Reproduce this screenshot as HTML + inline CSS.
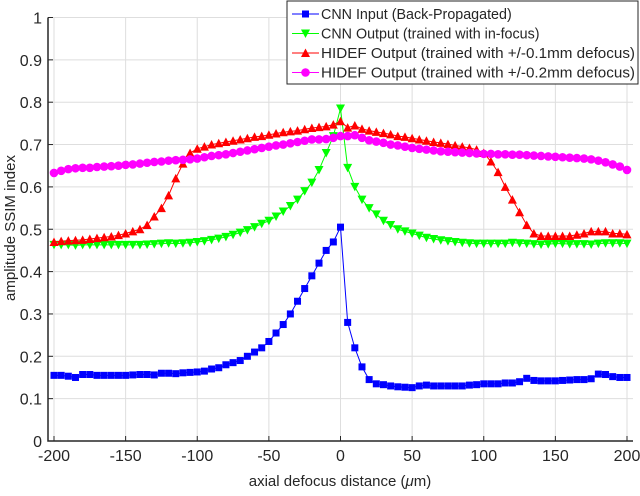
<!DOCTYPE html>
<html><head><meta charset="utf-8"><style>
body{margin:0;background:#fff;font-family:"Liberation Sans",sans-serif}
svg text{font-family:"Liberation Sans",sans-serif;fill:#262626}
</style></head><body>
<svg id="chart" width="640" height="491" xmlns="http://www.w3.org/2000/svg"></svg>
<script>
const xs=[];for(let i=-200;i<=200;i+=5)xs.push(i);
const cnnInput=[0.155,0.155,0.153,0.15,0.157,0.157,0.155,0.155,0.155,0.155,0.155,0.156,0.157,0.157,0.156,0.16,0.16,0.159,0.161,0.162,0.163,0.165,0.17,0.173,0.18,0.185,0.19,0.2,0.21,0.22,0.235,0.255,0.275,0.3,0.33,0.36,0.39,0.42,0.45,0.47,0.505,
0.28,0.22,0.175,0.145,0.135,0.133,0.13,0.128,0.127,0.126,0.13,0.132,0.13,0.13,0.13,0.13,0.13,0.132,0.133,0.135,0.135,0.135,0.137,0.137,0.14,0.148,0.143,0.142,0.142,0.142,0.143,0.144,0.145,0.145,0.147,0.158,0.157,0.152,0.15,0.15];
const cnnOutput=[0.463,0.463,0.463,0.462,0.463,0.463,0.463,0.463,0.463,0.463,0.463,0.463,0.463,0.464,0.465,0.466,0.467,0.466,0.467,0.468,0.47,0.472,0.475,0.478,0.482,0.487,0.492,0.498,0.505,0.513,0.52,0.53,0.542,0.555,0.57,0.59,0.61,0.64,0.68,0.72,0.785,
0.645,0.6,0.57,0.55,0.535,0.52,0.51,0.5,0.495,0.49,0.485,0.48,0.477,0.474,0.472,0.47,0.468,0.467,0.466,0.466,0.466,0.466,0.466,0.468,0.467,0.466,0.465,0.464,0.465,0.466,0.466,0.465,0.465,0.465,0.464,0.466,0.467,0.467,0.467,0.466];
const hidef1=[0.47,0.472,0.473,0.474,0.475,0.477,0.479,0.481,0.483,0.486,0.49,0.495,0.5,0.51,0.53,0.55,0.58,0.62,0.655,0.68,0.69,0.695,0.7,0.703,0.706,0.709,0.712,0.715,0.718,0.72,0.723,0.726,0.729,0.731,0.733,0.736,0.739,0.741,0.743,0.747,0.755,
0.74,0.745,0.737,0.733,0.73,0.727,0.724,0.72,0.718,0.715,0.712,0.709,0.706,0.704,0.701,0.698,0.695,0.692,0.688,0.68,0.66,0.635,0.6,0.57,0.54,0.51,0.49,0.484,0.484,0.484,0.484,0.484,0.487,0.49,0.495,0.495,0.495,0.49,0.49,0.488];
const hidef2=[0.633,0.638,0.642,0.644,0.645,0.645,0.647,0.648,0.649,0.65,0.652,0.653,0.655,0.657,0.659,0.66,0.662,0.663,0.664,0.665,0.667,0.67,0.673,0.675,0.677,0.68,0.683,0.686,0.689,0.692,0.695,0.698,0.7,0.703,0.706,0.709,0.712,0.712,0.713,0.716,0.72,
0.72,0.722,0.716,0.71,0.707,0.704,0.7,0.698,0.695,0.692,0.69,0.688,0.686,0.684,0.683,0.682,0.681,0.68,0.679,0.678,0.678,0.677,0.677,0.676,0.676,0.675,0.674,0.673,0.672,0.671,0.67,0.669,0.668,0.667,0.665,0.662,0.658,0.653,0.648,0.64];
const xTicks=[-200,-150,-100,-50,0,50,100,150,200];
const yTicks=[0,0.1,0.2,0.3,0.4,0.5,0.6,0.7,0.8,0.9,1];
const labels=["CNN Input (Back-Propagated)","CNN Output (trained with in-focus)","HIDEF Output (trained with +/-0.1mm defocus)","HIDEF Output (trained with +/-0.2mm defocus)"];
const NS="http://www.w3.org/2000/svg",svg=document.getElementById('chart');
const X=v=>54+(v+200)*(627-54)/400, Y=v=>441-v*(441-17.5);
function el(t,a,p){const e=document.createElementNS(NS,t);for(const k in a)e.setAttribute(k,a[k]);(p||svg).appendChild(e);return e;}
const L=48,R=633,T=17.5,B=441;
const grid=el('g',{});
xTicks.forEach(t=>{el('line',{x1:X(t),x2:X(t),y1:T,y2:B,stroke:'#dedede'},grid);el('line',{x1:X(t),x2:X(t),y1:B,y2:B-5,stroke:'#262626'});
const tx=el('text',{x:X(t),y:B+20,'text-anchor':'middle','font-size':16});tx.textContent=t;
});
yTicks.forEach(t=>{el('line',{x1:L,x2:R,y1:Y(t),y2:Y(t),stroke:'#dedede'},grid);el('line',{x1:L,x2:L+5,y1:Y(t),y2:Y(t),stroke:'#262626'});
const tx=el('text',{x:L-6,y:Y(t)+6,'text-anchor':'end','font-size':16});tx.textContent=t;
});
const ax=el('path',{d:`M${L},${T}V${B}H${R}`,fill:'none',stroke:'#262626','stroke-width':1.5});

const xt=el('text',{x:340,y:486,'text-anchor':'middle','font-size':15});xt.innerHTML='axial defocus distance (<tspan font-style="italic">μ</tspan>m)';

const yt=el('text',{x:0,y:0,'text-anchor':'middle','font-size':15,transform:'translate(15,228) rotate(-90)'});yt.textContent='amplitude SSIM index';

function marker(g,shape,x,y,c){
 if(shape=='sq')el('rect',{x:x-3.5,y:y-3.5,width:7,height:7,fill:c},g);
 else if(shape=='dn')el('path',{d:`M${x-4.5},${y-4}H${x+4.5}L${x},${y+4.5}Z`,fill:c},g);
 else if(shape=='up')el('path',{d:`M${x-4.5},${y+4}H${x+4.5}L${x},${y-4.5}Z`,fill:c},g);
 else el('circle',{cx:x,cy:y,r:4.3,fill:c},g);}
const series=[[cnnInput,'#0000ff','sq','series-cnn-input'],[cnnOutput,'#00ff00','dn','series-cnn-output'],[hidef1,'#ff0000','up','series-hidef-01mm'],[hidef2,'#ff00ff','ci','series-hidef-02mm']];
series.forEach(([d,c,s,n])=>{const g=el('g',{});
 el('polyline',{points:d.map((v,i)=>X(xs[i])+','+Y(v)).join(' '),fill:'none',stroke:c,'stroke-width':1},g);
 d.forEach((v,i)=>marker(g,s,X(xs[i]),Y(v),c));});
const lg=el('g',{});
el('rect',{x:287,y:1,width:351,height:83,fill:'#fff',stroke:'#262626'},lg);
series.forEach(([d,c,s,n],i)=>{const y=14+i*19.5;const e=el('g',{},lg);
 el('line',{x1:292,x2:319,y1:y,y2:y,stroke:c},e);marker(e,s,305.5,y,c);
 const t=el('text',{x:321,y:y+5,'font-size':14.3,textLength:314,lengthAdjust:'spacingAndGlyphs'},e);t.textContent=labels[i];
 if(i<2)t.removeAttribute('textLength');});
</script>
</body></html>
